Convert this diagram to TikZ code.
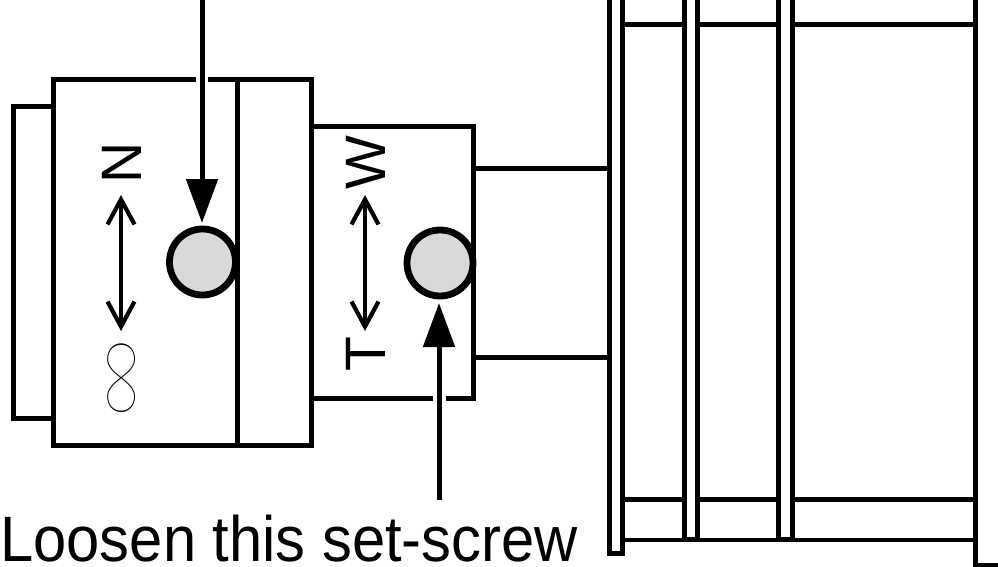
\documentclass[tikz,border=0pt]{standalone}
\usepackage{fontspec}
\setmainfont{Liberation Sans}
\newfontfamily\thinfont{Lato Thin}
\usepackage{xcolor}
\usetikzlibrary{calc}
\usetikzlibrary{arrows.meta}
\definecolor{screwgray}{HTML}{D9D9D9}
\tikzset{
    part/.style={line width=5pt, line join=miter},
    screw/.style={line width=6.8pt, fill=screwgray},
    pointer/.style={line width=5pt, -{Triangle[length=44pt,width=31pt]}},
    travel/.style={line width=4.2pt, {Straight Barb[length=25pt,width=27pt]}-{Straight Barb[length=25pt,width=27pt]}},
    lettering/.style={font=\fontsize{57}{57}\selectfont, rotate=90, inner sep=0pt},
}
\begin{document}
\begin{tikzpicture}[x=1pt,y=-1pt]
    \useasboundingbox (0,0) rectangle (998,567);
    %KOORDINAT
    \coordinate (Aim1) at (202,0);
    \coordinate (Screw1) at (202.5,262);
    \coordinate (Aim2) at (439,500);
    \coordinate (Screw2) at (440,263);
    %TUTUP
    \draw[part] (53,107) -- (13,107) -- (13,418) -- (53,418);
    %BADAN
    \draw[part] (53,80) rectangle (311,445);
    \draw[part] (237,80) -- (237,445);
    \draw[part] (311,127) -- (473,127) -- (473,398) -- (311,398);
    %SAMBUNGAN
    \draw[part] (473,168) -- (609,168);
    \draw[part] (473,357) -- (609,357);
    %PLAT
    \draw[part] (609.5,-5) -- (609.5,553) -- (622.5,553) -- (622.5,-5);
    \draw[part] (684.5,-5) -- (684.5,539) -- (697,539) -- (697,-5);
    \draw[part] (778.5,-5) -- (778.5,539) -- (792,539) -- (792,-5);
    \draw[part] (975.5,-5) -- (975.5,565) -- (1003,565);
    \draw[part] (622.5,25) -- (684.5,25) (697,25) -- (778.5,25) (792,25) -- (975.5,25);
    \draw[part] (622.5,499) -- (684.5,499) (697,499) -- (778.5,499) (792,499) -- (975.5,499);
    \draw[part, line width=3.6pt] (622.5,540) -- (975.5,540);
    %SEKRUP
    \draw[screw] (Screw1) circle (33);
    \draw[screw] (Screw2) circle (33);
    %PENUNJUK
    \draw[white, line width=12pt] (Aim1) -- (202,100);
    \draw[white, line width=13pt] (Aim2) -- (439,370);
    \draw[pointer] (Aim1) -- (202,223);
    \draw[pointer] (Aim2) -- (439,303);
    %GERAK
    \draw[travel] (121,195) -- (121,331);
    \draw[travel] (365,195) -- (365,331);
    %HURUF
    \node[lettering] (near) at (121.5,162.5) {N};
    \node[lettering, xscale=1.18] (far) at (129,378) {\fontsize{98}{98}\thinfont ∞};
    \node[lettering] (wide) at (365.5,162.5) {W};
    \node[lettering] (tele) at (365.5,354) {T};
    \node[font=\fontsize{59.7}{60}\selectfont, anchor=base west, inner sep=0pt, yscale=1.075] (loosen) at (0.2,561) {Loosen this set-screw};
\end{tikzpicture}
\end{document}
